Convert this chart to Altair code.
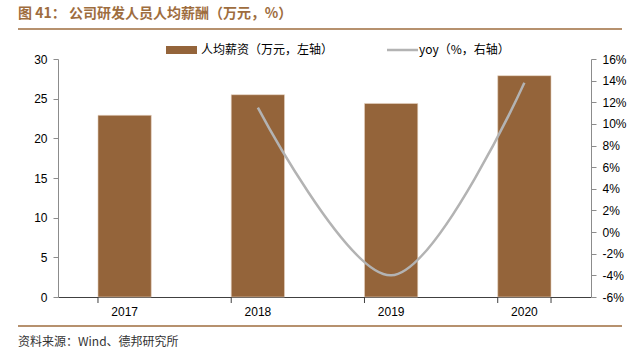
import altair as alt
import pandas as pd

years = ["2017", "2018", "2019", "2020"]
salary = [22.9, 25.5, 24.4, 27.9]
yoy = [None, 11.5, -4.0, 13.8]

title_text = "图 41：  公司研发人员人均薪酬（万元，%）"
legend_bar = "人均薪资（万元，左轴）"
legend_line = "yoy（%，右轴）"
source_text = "资料来源：Wind、德邦研究所"

BROWN = "#94643A"
TITLE_BROWN = "#9E6D3E"
GRAY = "#B3B3B3"
CJK = "Noto Sans CJK SC"
LAT = "Liberation Sans"

df = pd.DataFrame({"year": years, "salary": salary, "yoy": yoy})

base = alt.Chart(df)
xenc = alt.X("year:N", sort=years, title=None,
             scale=alt.Scale(paddingInner=0.6, paddingOuter=0.3),
             axis=alt.Axis(labelAngle=0, ticks=False, domainColor="#404040",
                           labelFont=LAT, labelFontSize=12, labelColor="#000000",
                           labelPadding=9))

bars = base.mark_bar(color=BROWN, stroke="#E8D5C4", strokeWidth=0.6).encode(
    x=xenc,
    y=alt.Y("salary:Q", title=None,
            scale=alt.Scale(domain=[0, 30], nice=False),
            axis=alt.Axis(orient="left", values=[0, 5, 10, 15, 20, 25, 30],
                          grid=False, domainColor="#8C8C8C", tickColor="#8C8C8C",
                          tickSize=5, labelFont=LAT, labelFontSize=12,
                          labelColor="#000000", labelPadding=6)),
)

line = base.transform_filter("datum.yoy != null").mark_line(
    color=GRAY, strokeWidth=2.5, interpolate="catmull-rom").encode(
    x=alt.X("year:N", sort=years),
    y=alt.Y("yoy:Q", title=None,
            scale=alt.Scale(domain=[-6, 16], nice=False),
            axis=alt.Axis(orient="right", values=list(range(-6, 17, 2)),
                          labelExpr="datum.value + '%'",
                          grid=False, domainColor="#8C8C8C", tickColor="#8C8C8C",
                          tickSize=5, labelFont=LAT, labelFontSize=12,
                          labelColor="#000000", labelPadding=6)),
)

xticks = base.mark_rule(color="#404040", strokeWidth=1).encode(
    x=alt.X("year:N", sort=years, bandPosition=0),
    y=alt.value(238), y2=alt.value(244),
)
xtick_end = base.transform_filter("datum.year == '2020'").mark_rule(
    color="#404040", strokeWidth=1).encode(
    x=alt.X("year:N", sort=years, bandPosition=1),
    y=alt.value(238), y2=alt.value(244),
)

one = alt.Chart(pd.DataFrame({"k": [0]}))

title = one.mark_text(align="left", baseline="middle", font=CJK, fontSize=14,
                      fontWeight="bold", color=TITLE_BROWN).encode(
    x=alt.value(-40), y=alt.value(-45), text=alt.value(title_text))
top_rule = one.mark_rule(color=TITLE_BROWN, strokeWidth=1.5).encode(
    x=alt.value(-40), x2=alt.value(564), y=alt.value(-30))
bottom_rule = one.mark_rule(color=TITLE_BROWN, strokeWidth=1.5).encode(
    x=alt.value(-40), x2=alt.value(564), y=alt.value(267))
source = one.mark_text(align="left", baseline="middle", font=CJK, fontSize=12,
                       color="#333333").encode(
    x=alt.value(-40), y=alt.value(283), text=alt.value(source_text))

leg_rect = one.mark_rect(color=BROWN).encode(
    x=alt.value(108), x2=alt.value(139), y=alt.value(-13), y2=alt.value(-5))
leg_text1 = one.mark_text(align="left", baseline="middle", font=CJK, fontSize=12,
                          color="#000000").encode(
    x=alt.value(143), y=alt.value(-9), text=alt.value(legend_bar))
leg_line = one.mark_rule(color=GRAY, strokeWidth=2.5).encode(
    x=alt.value(329), x2=alt.value(360), y=alt.value(-9))
leg_text2 = one.mark_text(align="left", baseline="middle", font=CJK, fontSize=12,
                          color="#000000").encode(
    x=alt.value(361), y=alt.value(-9), text=alt.value(legend_line))

chart = alt.layer(
    bars, line, xticks, xtick_end,
    title, top_rule, bottom_rule, source,
    leg_rect, leg_text1, leg_line, leg_text2,
).resolve_scale(y="independent").properties(
    width=533, height=238,
    padding={"left": 58, "top": 59, "right": 49, "bottom": 59},
    autosize=alt.AutoSizeParams(type="none"),
    background="white",
).configure_view(stroke=None)

chart.save("out.html", embed_options={"renderer": "svg", "actions": False})
